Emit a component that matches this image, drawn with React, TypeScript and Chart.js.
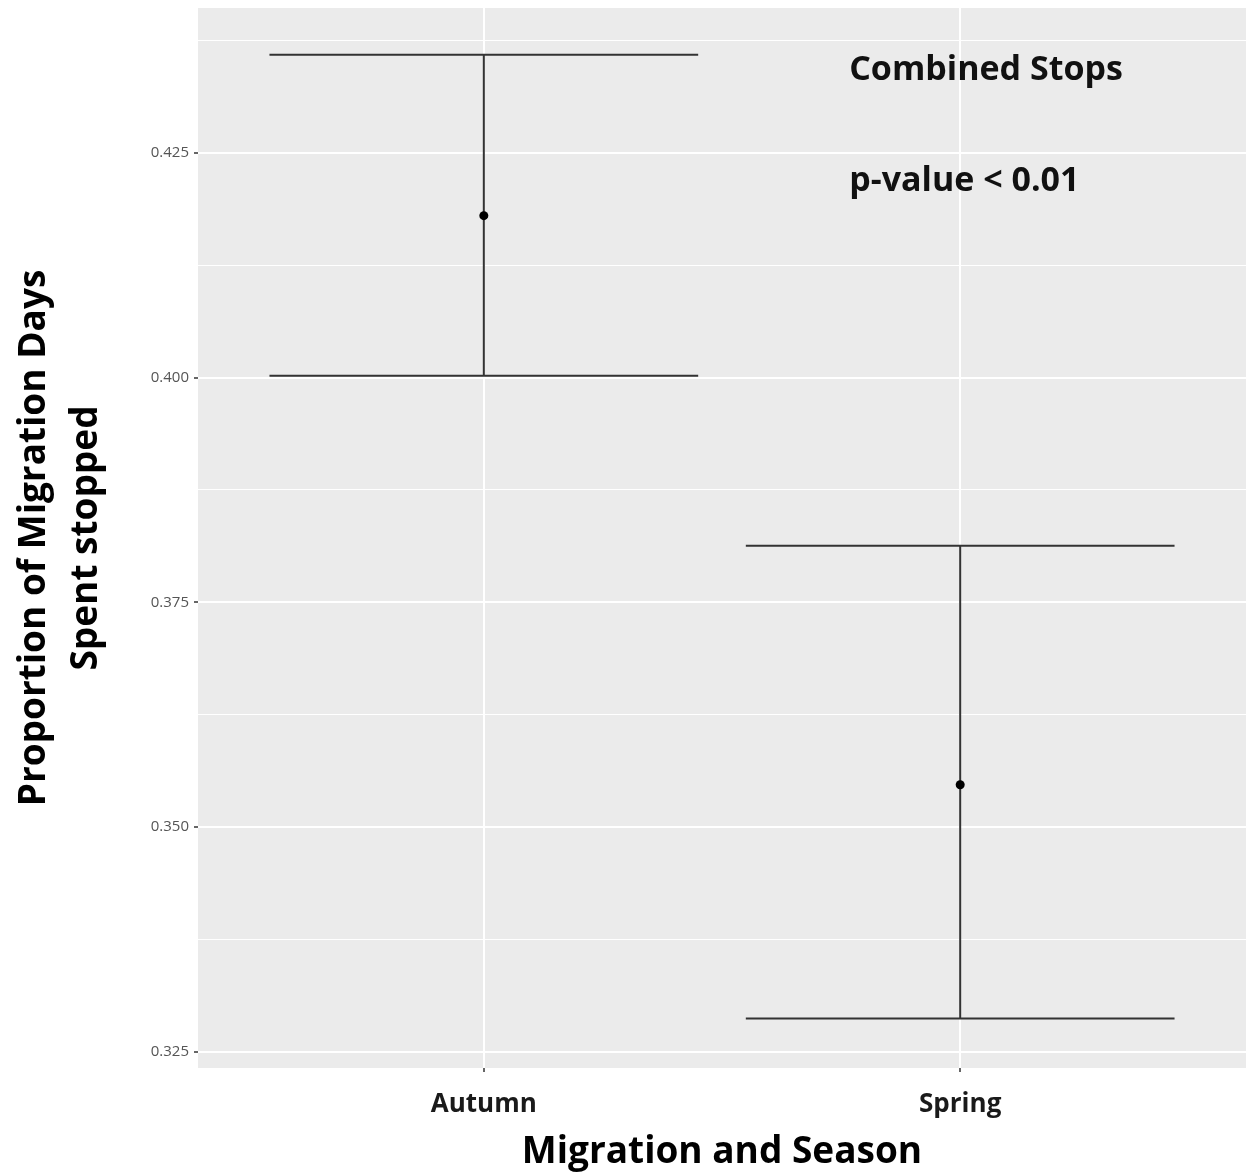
import React, { useEffect, useRef } from "react";
import { Chart, registerables } from "chart.js";

Chart.register(...registerables);

const categories = ["Autumn", "Spring"];
const means = [0.418, 0.3547];
const lowers = [0.4002, 0.3287];
const uppers = [0.4359, 0.3813];
const yMajorTicks = [0.325, 0.35, 0.375, 0.4, 0.425];
const yRange = [0.3232, 0.4411];
const annotations = [
  { text: "Combined Stops", x: 1.767, y: 0.4342 },
  { text: "p-value < 0.01", x: 1.767, y: 0.4218 },
];

const FONT = "'Open Sans', sans-serif";

export default function App() {
  const ref = useRef<HTMLCanvasElement | null>(null);

  useEffect(() => {
    document.body.style.margin = "0";
    const canvas = ref.current;
    if (!canvas) return;

    const minorTicks: number[] = [];
    for (let i = 0; i < yMajorTicks.length; i++) {
      const step = i < yMajorTicks.length - 1 ? yMajorTicks[i + 1] - yMajorTicks[i] : yMajorTicks[i] - yMajorTicks[i - 1];
      minorTicks.push(yMajorTicks[i] + step / 2);
    }
    const allY = [...yMajorTicks, ...minorTicks]
      .filter((v) => v >= yRange[0] && v <= yRange[1])
      .sort((a, b) => a - b);
    const isMajor = (v: number) => yMajorTicks.some((m) => Math.abs(m - v) < 1e-9);

    const panelBg = {
      id: "panelBg",
      beforeDraw(chart: any) {
        const { ctx, chartArea } = chart;
        ctx.save();
        ctx.fillStyle = "#EBEBEB";
        ctx.fillRect(chartArea.left, chartArea.top, chartArea.right - chartArea.left, chartArea.bottom - chartArea.top);
        ctx.restore();
      },
    };

    const errorBars = {
      id: "errorBars",
      beforeDatasetsDraw(chart: any) {
        const { ctx, scales } = chart;
        const xs = scales.x;
        const ys = scales.y;
        ctx.save();
        ctx.strokeStyle = "#333333";
        ctx.lineWidth = 2;
        categories.forEach((_, i) => {
          const xc = xs.getPixelForValue(i + 1);
          const xl = xs.getPixelForValue(i + 1 - 0.45);
          const xr = xs.getPixelForValue(i + 1 + 0.45);
          const yl = ys.getPixelForValue(lowers[i]);
          const yu = ys.getPixelForValue(uppers[i]);
          ctx.beginPath();
          ctx.moveTo(xl, yu);
          ctx.lineTo(xr, yu);
          ctx.moveTo(xc, yu);
          ctx.lineTo(xc, yl);
          ctx.moveTo(xl, yl);
          ctx.lineTo(xr, yl);
          ctx.stroke();
        });
        ctx.restore();
      },
      afterDatasetsDraw(chart: any) {
        const { ctx, scales } = chart;
        ctx.save();
        ctx.fillStyle = "#111111";
        ctx.font = `bold 34px ${FONT}`;
        ctx.textAlign = "left";
        ctx.textBaseline = "middle";
        annotations.forEach((a) => {
          ctx.fillText(a.text, scales.x.getPixelForValue(a.x), scales.y.getPixelForValue(a.y));
        });
        ctx.restore();
      },
    };

    const chart = new Chart(canvas, {
      type: "scatter",
      data: {
        datasets: [
          {
            data: categories.map((_, i) => ({ x: i + 1, y: means[i] })),
            pointRadius: 4.5,
            pointBackgroundColor: "#000000",
            pointBorderWidth: 0,
            showLine: false,
          },
        ],
      },
      options: {
        animation: false,
        responsive: false,
        layout: { autoPadding: false, padding: { top: 8, left: 0, right: 0, bottom: 0 } },
        plugins: { legend: { display: false }, tooltip: { enabled: false } },
        scales: {
          x: {
            type: "linear",
            min: 0.4,
            max: 2.6,
            afterBuildTicks(scale: any) {
              scale.ticks = categories.map((_, i) => ({ value: i + 1 }));
            },
            afterFit(scale: any) {
              scale.height = 108;
              scale.paddingLeft = 0;
              scale.paddingRight = 0;
            },
            grid: {
              color: "#FFFFFF",
              lineWidth: 2,
              drawTicks: true,
              tickLength: 4,
              tickColor: "#333333",
              tickWidth: 1.5,
            },
            border: { display: false },
            ticks: {
              autoSkip: false,
              maxRotation: 0,
              padding: 17,
              color: "#1a1a1a",
              font: { family: FONT, size: 26, weight: "bold" },
              callback: (v: any) => categories[Math.round(Number(v)) - 1] ?? "",
            },
            title: {
              display: true,
              text: "Migration and Season",
              color: "#000000",
              font: { family: FONT, size: 37, weight: "bold" },
              padding: { top: 0, bottom: 1 },
            },
          },
          y: {
            type: "linear",
            min: yRange[0],
            max: yRange[1],
            afterBuildTicks(scale: any) {
              scale.ticks = allY.map((v) => ({ value: v }));
            },
            afterFit(scale: any) {
              scale.width = 198;
              scale.paddingTop = 0;
              scale.paddingBottom = 0;
            },
            grid: {
              color: "#FFFFFF",
              lineWidth: (c: any) => (c.tick && isMajor(c.tick.value) ? 2 : 1),
              drawTicks: true,
              tickLength: 4,
              tickColor: (c: any) => (c.tick && isMajor(c.tick.value) ? "#333333" : "rgba(0,0,0,0)"),
              tickWidth: 1.5,
            },
            border: { display: false },
            ticks: {
              autoSkip: false,
              padding: 5,
              color: "#555555",
              font: { family: FONT, size: 15 },
              callback: (v: any) => (isMajor(Number(v)) ? Number(v).toFixed(3) : ""),
            },
            title: {
              display: true,
              text: ["Proportion of Migration Days", "Spent stopped"],
              color: "#000000",
              font: { family: FONT, size: 37, weight: "bold", lineHeight: 1.4 },
              padding: { top: 9, bottom: 0 },
            },
          },
        },
      },
      plugins: [panelBg, errorBars],
    });

    return () => chart.destroy();
  }, []);

  return (
    <div style={{ width: 1246, height: 1176 }}>
      <canvas ref={ref} width={1246} height={1176} style={{ display: "block" }} />
    </div>
  );
}
